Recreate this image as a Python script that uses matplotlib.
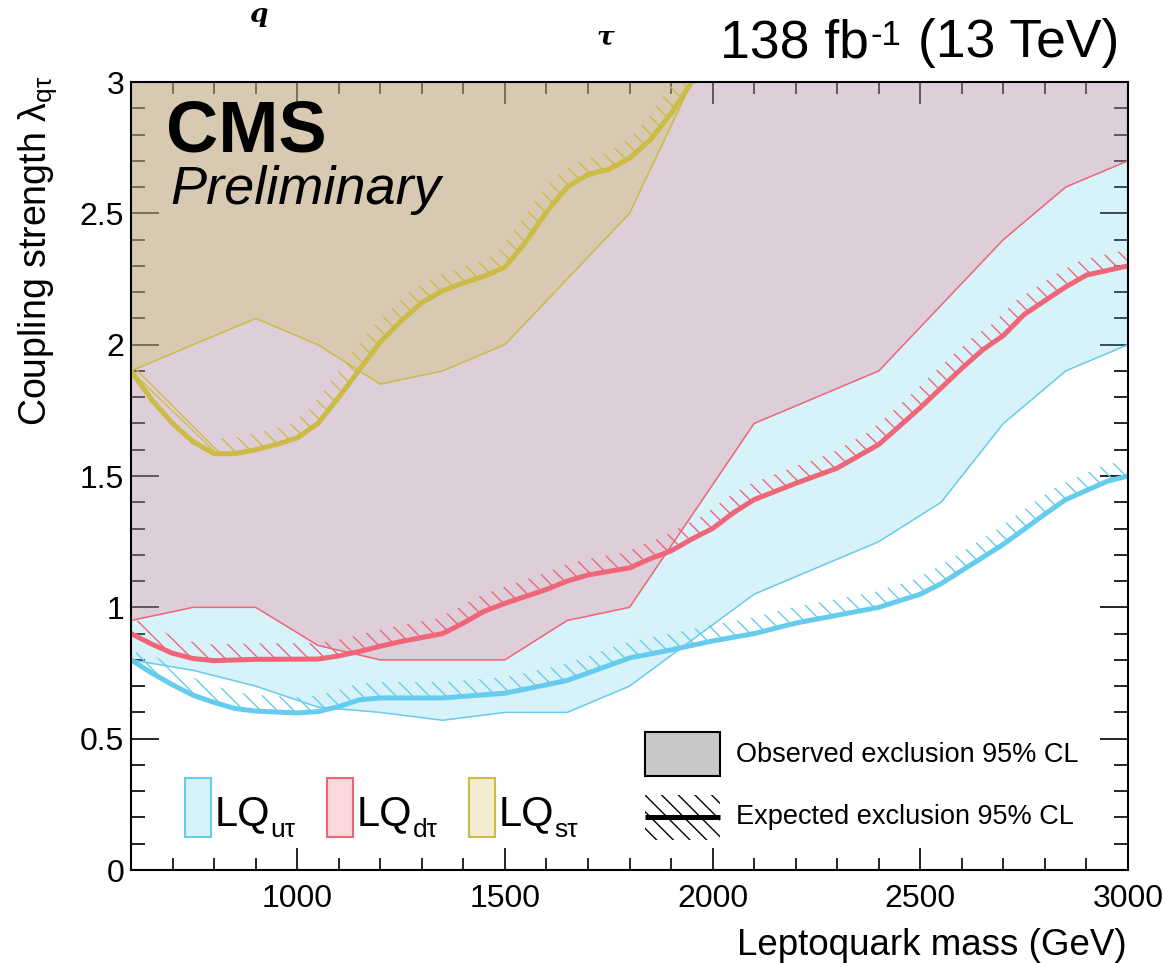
import numpy as np
import matplotlib
matplotlib.use('Agg')
import matplotlib.pyplot as plt
from matplotlib.patches import Rectangle, Polygon
from matplotlib.text import Annotation
from matplotlib.ticker import MultipleLocator, FixedLocator, FixedFormatter
from matplotlib.colors import to_rgba

plt.rcParams['font.family'] = ['Liberation Sans', 'DejaVu Sans']
plt.rcParams['mathtext.fontset'] = 'custom'
plt.rcParams['mathtext.rm'] = 'Liberation Sans'
plt.rcParams['mathtext.it'] = 'Liberation Sans:italic'
plt.rcParams['mathtext.default'] = 'regular'
plt.rcParams['hatch.linewidth'] = 1.0

# ---------------- data ----------------
mass_obs = [600, 750, 900, 1050, 1200, 1350, 1500, 1650, 1800, 1950,
            2100, 2250, 2400, 2550, 2700, 2850, 3000]
obs_u = [0.80, 0.76, 0.70, 0.62, 0.60, 0.57, 0.60, 0.60, 0.70, 0.875,
         1.05, 1.15, 1.25, 1.40, 1.70, 1.90, 2.00]
obs_d = [0.95, 1.00, 1.00, 0.855, 0.80, 0.80, 0.80, 0.95, 1.00, 1.35,
         1.70, 1.80, 1.90, 2.15, 2.40, 2.60, 2.70]
mass_obs_s = [600, 750, 900, 1050, 1200, 1350, 1500, 1650, 1800, 1950]
obs_s = [1.90, 2.00, 2.10, 2.00, 1.85, 1.90, 2.00, 2.25, 2.50, 3.00]

mass_exp_u = [600, 650, 700, 750, 800, 850, 900, 1000, 1050, 1100, 1150,
              1200, 1350, 1500, 1600, 1650, 1700, 1800, 1900, 2000, 2100,
              2200, 2300, 2400, 2500, 2550, 2600, 2700, 2800, 2850, 2950,
              3000]
exp_u = [0.80, 0.75, 0.705, 0.665, 0.638, 0.615, 0.605, 0.598, 0.603, 0.622,
         0.648, 0.655, 0.655, 0.673, 0.705, 0.722, 0.75, 0.807, 0.838, 0.872,
         0.90, 0.94, 0.97, 1.00, 1.05, 1.09, 1.14, 1.24, 1.355, 1.41, 1.48,
         1.50]
mass_exp_d = [600, 650, 700, 750, 800, 900, 1050, 1100, 1150, 1200, 1250,
              1350, 1400, 1450, 1500, 1600, 1650, 1700, 1750, 1800, 1850,
              1900, 1950, 2000, 2050, 2100, 2200, 2300, 2400, 2450, 2500,
              2550, 2600, 2650, 2700, 2750, 2850, 2900, 3000]
exp_d = [0.90, 0.86, 0.825, 0.805, 0.797, 0.802, 0.803, 0.815, 0.832, 0.852,
         0.87, 0.90, 0.94, 0.985, 1.015, 1.068, 1.10, 1.123, 1.137, 1.15,
         1.185, 1.215, 1.26, 1.30, 1.36, 1.41, 1.472, 1.53, 1.62, 1.69, 1.76,
         1.835, 1.91, 1.98, 2.035, 2.115, 2.22, 2.265, 2.30]
mass_exp_s = [600, 650, 700, 750, 800, 850, 900, 950, 1000, 1050, 1100, 1150,
              1200, 1250, 1300, 1350, 1400, 1450, 1500, 1550, 1600, 1650,
              1700, 1750, 1800, 1850, 1900, 1950]
exp_s = [1.90, 1.79, 1.70, 1.63, 1.585, 1.585, 1.60, 1.62, 1.645, 1.70, 1.80,
         1.905, 2.01, 2.09, 2.16, 2.205, 2.235, 2.26, 2.295, 2.39, 2.505,
         2.60, 2.648, 2.667, 2.71, 2.78, 2.88, 3.00]
# thin edge drawn with the LQ_s expected band
edge_s_x = [600, 810]
edge_s_y = [1.90, 1.58]

x_ticks = [1000, 1500, 2000, 2500, 3000]
x_ticklabels = ["1000", "1500", "2000", "2500", "3000"]
y_ticks = [0, 0.5, 1, 1.5, 2, 2.5, 3]
y_ticklabels = ["0", "0.5", "1", "1.5", "2", "2.5", "3"]

C_U = '#66ccee'
C_D = '#ee6677'
C_S = '#ccbb44'

# ---------------- figure ----------------
W, H = 1164, 963
fig = plt.figure(figsize=(W / 100, H / 100), dpi=100)
L, R, T, B = 131, 1128, 82, 870
ax = fig.add_axes([L / W, 1 - B / H, (R - L) / W, (B - T) / H])
ax.set_xlim(600, 3000)
ax.set_ylim(0, 3)
ax.set_axisbelow(True)

# observed exclusion fills (above observed line)
ax.fill_between(mass_obs, obs_u, 3.5, color=C_U, alpha=0.25, lw=0, zorder=1)
ax.fill_between(mass_obs, obs_d, 3.5, color=C_D, alpha=0.25, lw=0, zorder=1.1)
ax.fill_between(mass_obs_s, obs_s, 3.5, color=C_S, alpha=0.25, lw=0, zorder=1.2)

ax.plot(mass_obs, obs_u, color=C_U, lw=1.1, zorder=2)
ax.plot(mass_obs, obs_d, color=C_D, lw=1.1, zorder=2)
ax.plot(mass_obs_s, obs_s, color=C_S, lw=1.1, zorder=2)
ax.plot(edge_s_x, edge_s_y, color=C_S, lw=0.9, zorder=2)


def hatch_band(x, y, color, width_px=16):
    pts = ax.transData.transform(np.column_stack([x, y]))
    d = np.gradient(pts, axis=0)
    n = np.column_stack([-d[:, 1], d[:, 0]])
    n /= np.linalg.norm(n, axis=1)[:, None]
    n[n[:, 1] < 0] *= -1
    off = pts + n * width_px
    poly = ax.transData.inverted().transform(np.vstack([pts, off[::-1]]))
    ax.add_patch(Polygon(poly, closed=True, facecolor='none', edgecolor=color,
                         lw=0, hatch='\\\\', zorder=3))


hatch_band(mass_exp_u, exp_u, C_U)
hatch_band(mass_exp_d, exp_d, C_D)
hatch_band(mass_exp_s, exp_s, C_S)

for xs, ys, c in [(mass_exp_u, exp_u, C_U), (mass_exp_d, exp_d, C_D),
                  (mass_exp_s, exp_s, C_S)]:
    ax.plot(xs, ys, color=c, lw=3.6, solid_joinstyle='round',
            solid_capstyle='butt', zorder=4)

# axes styling
ax.xaxis.set_major_locator(FixedLocator(x_ticks))
ax.xaxis.set_major_formatter(FixedFormatter(x_ticklabels))
ax.xaxis.set_minor_locator(MultipleLocator(100))
ax.yaxis.set_major_locator(FixedLocator(y_ticks))
ax.yaxis.set_major_formatter(FixedFormatter(y_ticklabels))
ax.yaxis.set_minor_locator(MultipleLocator(0.1))
ax.tick_params(which='both', direction='in', top=True, right=True,
               width=1.2, color='black', labelsize=23)
ax.tick_params(axis='x', which='major', length=16, pad=10)
ax.tick_params(axis='x', which='minor', length=8.5)
ax.tick_params(axis='y', which='major', length=20, pad=5)
ax.tick_params(axis='y', which='minor', length=10)
for s in ax.spines.values():
    s.set_linewidth(1.5)
    s.set_zorder(5)


def fx(px):
    return px / W


def fy(py):
    return 1 - py / H


def axx(px):
    return (px - L) / (R - L)


def axy(py):
    return (B - py) / (B - T)


# axis titles
fig.text(fx(1127), fy(955), 'Leptoquark mass (GeV)', fontsize=26.5,
         ha='right', va='baseline')
fig.text(fx(46), fy(76), r'Coupling strength $\lambda_{q\tau}$', fontsize=27,
         rotation=90, rotation_mode='anchor', ha='right', va='baseline')

# CMS labels
fig.text(fx(166), fy(152), 'CMS', fontsize=52, fontweight='bold',
         ha='left', va='baseline')
fig.text(fx(170), fy(204), 'Preliminary', fontsize=39, fontstyle='italic',
         ha='left', va='baseline')

# luminosity label: "138 fb^-1 (13 TeV)"
t_l1 = fig.text(fx(720), fy(57), '138 fb', fontsize=38.5, ha='left',
                va='baseline')
t_l2 = fig.add_artist(Annotation('-1', xy=(1, 1), xycoords=t_l1,
                                 xytext=(1, -1), textcoords='offset points',
                                 fontsize=25, ha='left', va='top'))
fig.add_artist(Annotation(' (13 TeV)', xy=(1, 0), xycoords=(t_l2, t_l1),
                          xytext=(1, 0), textcoords='offset points',
                          fontsize=38.5, ha='left', va='bottom'))

# stray symbols at the top
fig.text(fx(249), fy(22), 'q', fontsize=19, family='DejaVu Serif',
         fontstyle='italic', fontweight='bold', ha='left', va='baseline')
fig.text(fx(596), fy(44), 'τ', fontsize=19, family='DejaVu Serif',
         fontstyle='italic', fontweight='bold', ha='left', va='baseline')

# LQ legend
for x0, sub, c in [(185, 'uτ', C_U), (327, 'dτ', C_D), (469, 'sτ', C_S)]:
    ax.add_patch(Rectangle((axx(x0), axy(837)), 26 / (R - L), 59 / (B - T),
                           transform=ax.transAxes, facecolor=to_rgba(c, 0.25),
                           edgecolor=c, lw=1.5, zorder=6))
    t = ax.text(axx(x0 + 30), axy(825), 'LQ', fontsize=30, ha='left',
                va='baseline', transform=ax.transAxes, zorder=6)
    ax.annotate(sub, xy=(1, 0), xycoords=t, xytext=(0, -2),
                textcoords='offset points', fontsize=19, ha='left',
                va='baseline', zorder=6)

# observed / expected legend
ax.add_patch(Rectangle((axx(645), axy(776)), 75 / (R - L), 44 / (B - T),
                       transform=ax.transAxes, facecolor='#c8c8c8',
                       edgecolor='black', lw=1.5, zorder=6))
ax.add_patch(Rectangle((axx(645), axy(840)), 75 / (R - L), 45 / (B - T),
                       transform=ax.transAxes, facecolor='none',
                       edgecolor='black', lw=0, hatch='\\\\', zorder=6))
ax.plot([axx(645), axx(720)], [axy(817), axy(817)], color='black', lw=3.6,
        transform=ax.transAxes, solid_capstyle='butt', zorder=7)
ax.text(axx(736), axy(755), 'Observed exclusion 95% CL', fontsize=19.5,
        ha='left', va='center', transform=ax.transAxes, zorder=6)
ax.text(axx(736), axy(817), 'Expected exclusion 95% CL', fontsize=19.5,
        ha='left', va='center', transform=ax.transAxes, zorder=6)

fig.savefig('out.png', dpi=100)
